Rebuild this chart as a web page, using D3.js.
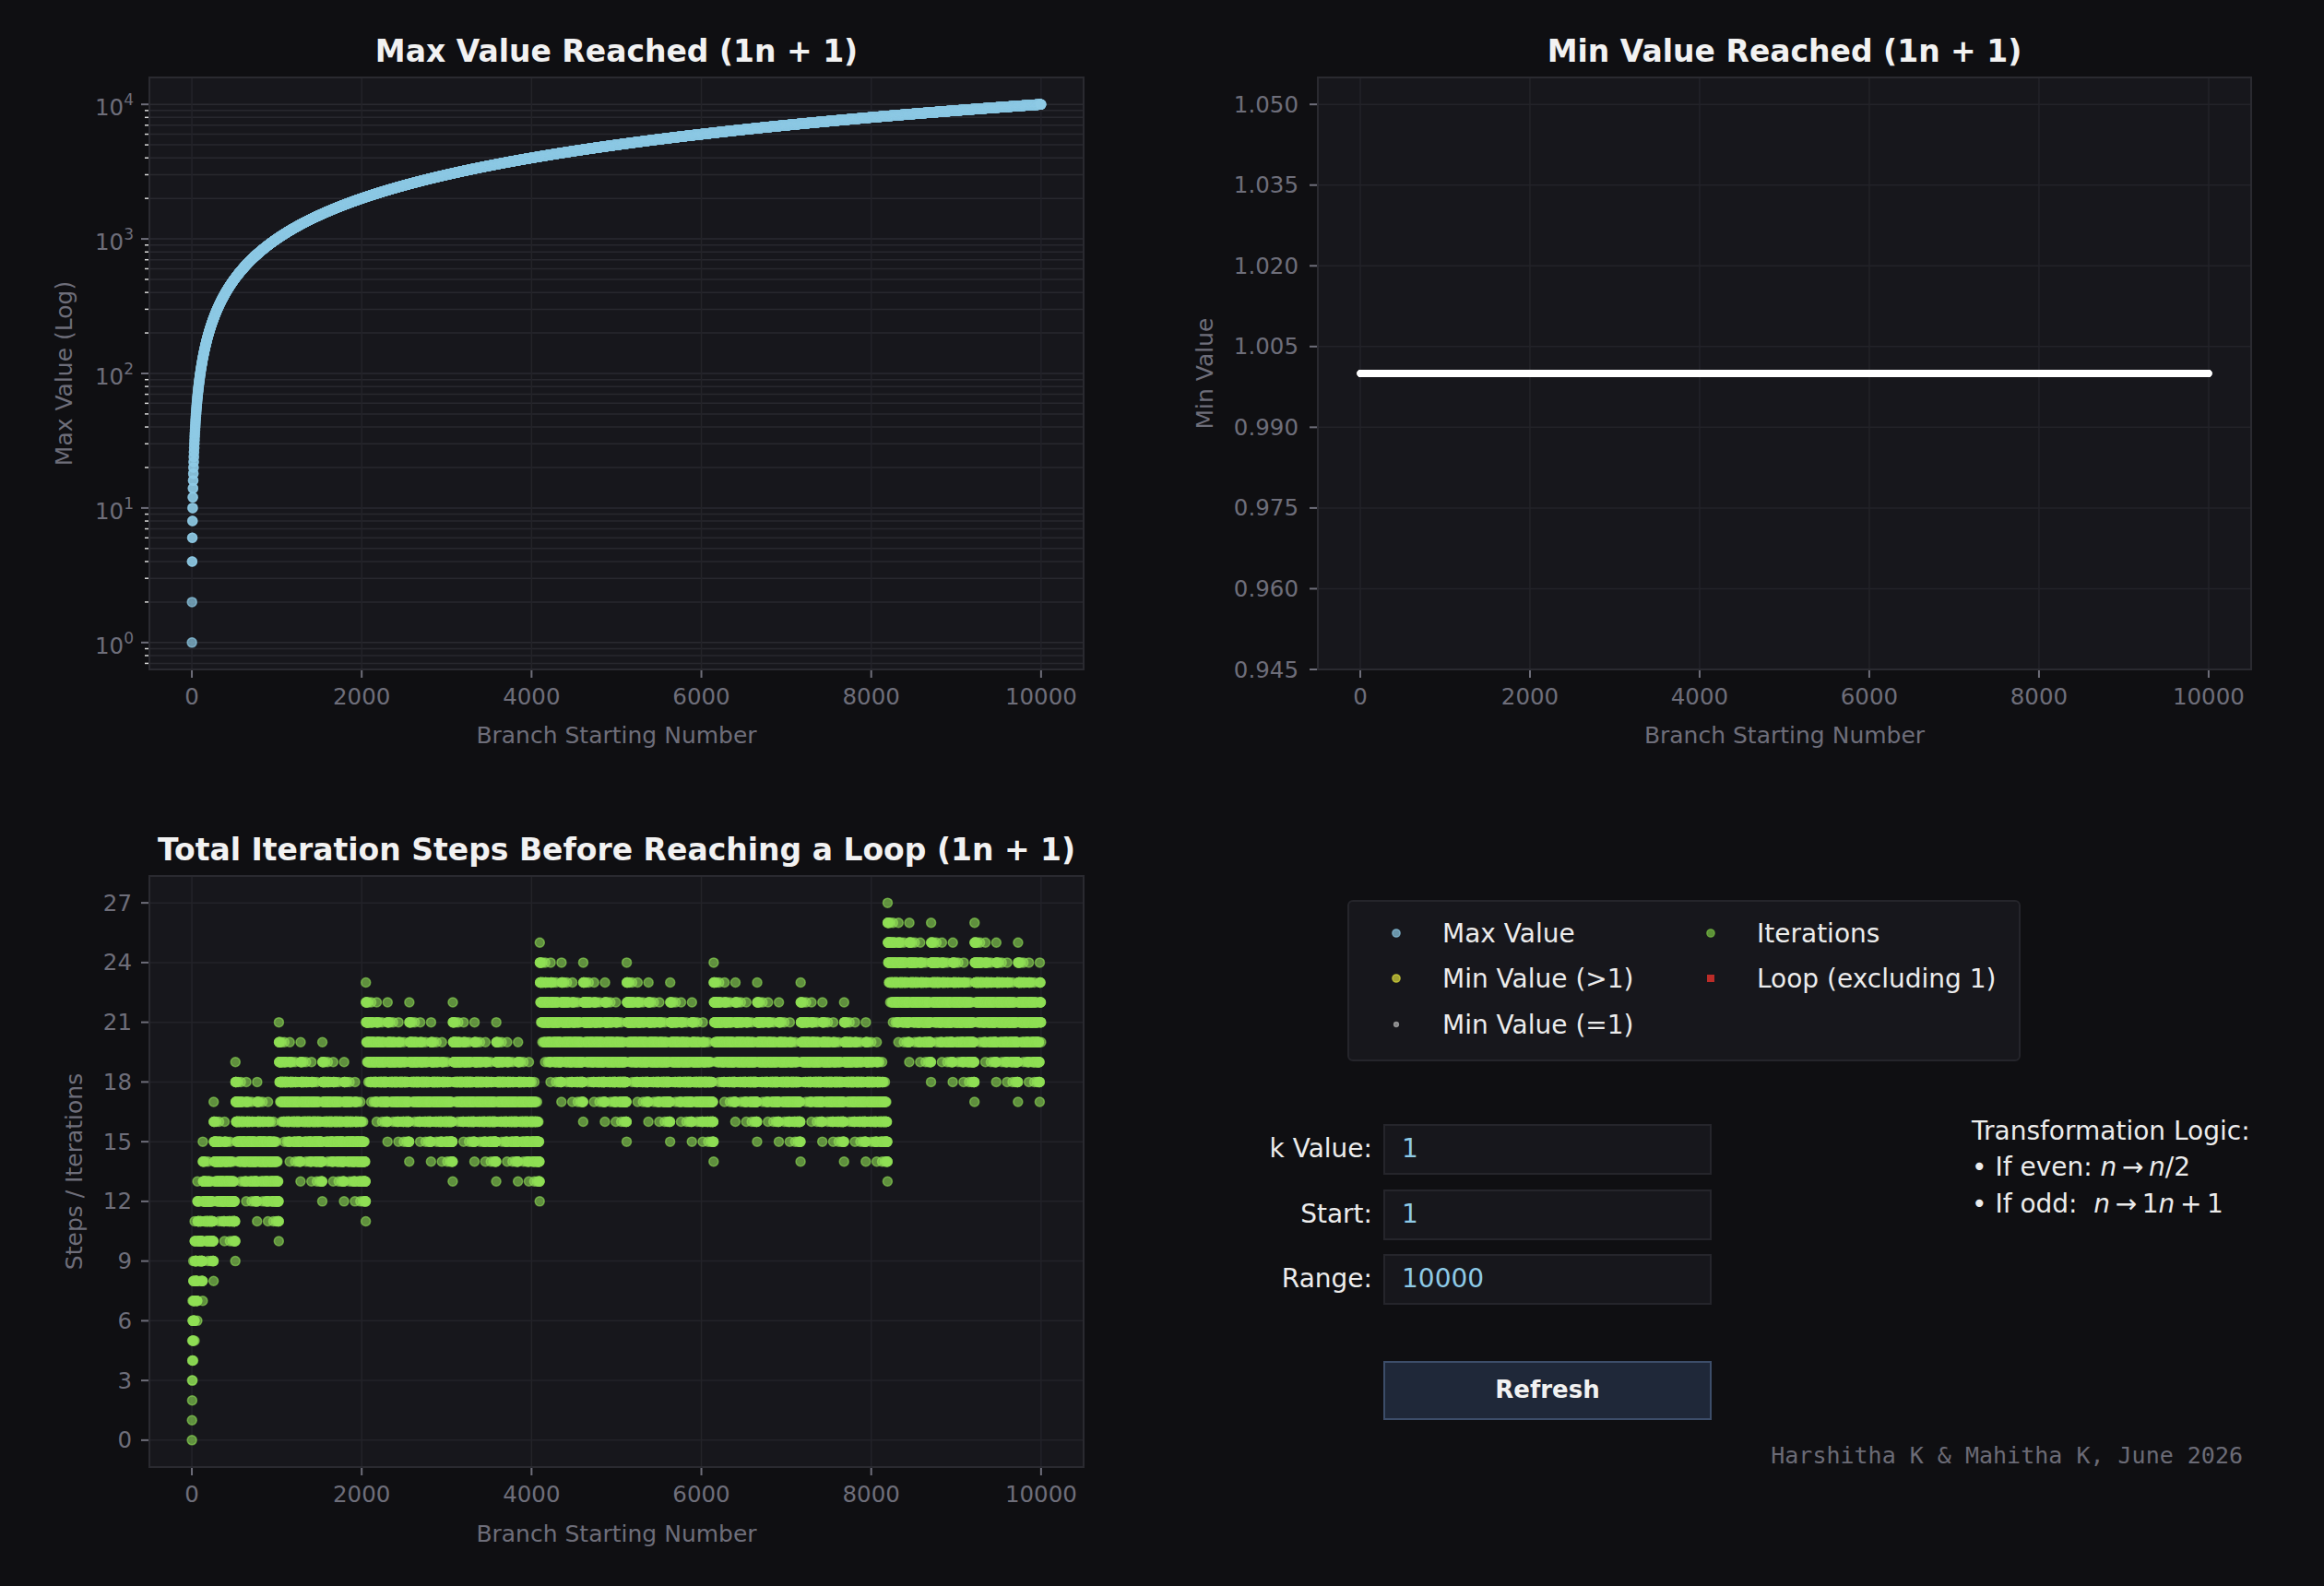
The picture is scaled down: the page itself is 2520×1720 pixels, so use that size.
<!DOCTYPE html>
<html>
<head>
<meta charset="utf-8">
<script src="https://cdn.jsdelivr.net/npm/d3@7"></script>
<style>
html, body { margin: 0; padding: 0; background: #0f0f12; }
svg { display: block; }
text { font-family: "DejaVu Sans", sans-serif; white-space: pre; }
</style>
</head>
<body>
<svg id="chart" width="2520" height="1720"></svg>
<script>
// values typed in the control panel of the picture
var kValue = 1;
var startValue = 1;
var rangeValue = 10000;

var xTicks = [0, 2000, 4000, 6000, 8000, 10000];
var logTicks = [1, 10, 100, 1000, 10000];
var minTicks = [0.945, 0.960, 0.975, 0.990, 1.005, 1.020, 1.035, 1.050];
var stepTicks = [0, 3, 6, 9, 12, 15, 18, 21, 24, 27];

var legendLabels = ["Max Value", "Min Value (>1)", "Min Value (=1)", "Iterations", "Loop (excluding 1)"];
var legendColors = ["#8ecae6", "#e0e03c", "#b0b0b0", "#7cc644", "#d8302a"];

var bg = "#0f0f12", panel = "#17171c", frame = "#2a2a30", grid = "#232329";
var tickGrey = "#6e6e7a", textWhite = "#ececec";

// run the branch rule (n even -> n/2, n odd -> k*n + 1) for every starting number
var starts = [], maxValues = [], minValues = [], stepCounts = [];
for (var n = startValue; n < startValue + rangeValue; n++) {
	var x = n, steps = 0, hi = n, lo = n, seen = new Set([n]);
	while (x !== 1) {
		x = (x % 2 === 0) ? x / 2 : kValue * x + 1;
		if (seen.has(x)) break;
		seen.add(x);
		steps++;
		if (x > hi) hi = x;
		if (x < lo) lo = x;
	}
	starts.push(n);
	maxValues.push(hi);
	minValues.push(lo);
	stepCounts.push(steps);
}

var svg = d3.select("#chart");
svg.append("rect").attr("width", 2520).attr("height", 1720).attr("fill", bg);

var xDomain = [-499.95, 10500.95];

function panelFrame(box, title, titleY) {
	var g = svg.append("g");
	g.append("rect")
		.attr("x", box.x0).attr("y", box.y0)
		.attr("width", box.x1 - box.x0).attr("height", box.y1 - box.y0)
		.attr("fill", panel);
	svg.append("text")
		.attr("x", (box.x0 + box.x1) / 2).attr("y", titleY)
		.attr("text-anchor", "middle")
		.attr("font-size", 33).attr("font-weight", "bold")
		.attr("fill", "#f2f2f2")
		.text(title);
	return g;
}

function xAxis(box, x, label, labelY) {
	var g = svg.append("g");
	g.selectAll("line.grid").data(xTicks).enter().append("line")
		.attr("x1", x).attr("x2", x)
		.attr("y1", box.y0).attr("y2", box.y1)
		.attr("stroke", grid).attr("stroke-width", 1.5);
	g.selectAll("line.tick").data(xTicks).enter().append("line")
		.attr("x1", x).attr("x2", x)
		.attr("y1", box.y1).attr("y2", box.y1 + 9)
		.attr("stroke", tickGrey).attr("stroke-width", 2);
	g.selectAll("text").data(xTicks).enter().append("text")
		.attr("x", x).attr("y", box.y1 + 38)
		.attr("text-anchor", "middle")
		.attr("font-size", 24.5).attr("fill", tickGrey)
		.text(function(d) { return d; });
	svg.append("text")
		.attr("x", (box.x0 + box.x1) / 2).attr("y", labelY)
		.attr("text-anchor", "middle")
		.attr("font-size", 25).attr("fill", tickGrey)
		.text(label);
}

function yLabel(box, xPos, label) {
	svg.append("text")
		.attr("transform", "translate(" + xPos + "," + ((box.y0 + box.y1) / 2) + ") rotate(-90)")
		.attr("text-anchor", "middle")
		.attr("dominant-baseline", "central")
		.attr("font-size", 25).attr("fill", tickGrey)
		.text(label);
}

function frameOutline(box) {
	svg.append("rect")
		.attr("x", box.x0).attr("y", box.y0)
		.attr("width", box.x1 - box.x0).attr("height", box.y1 - box.y0)
		.attr("fill", "none").attr("stroke", frame).attr("stroke-width", 2);
}

// ---------- max value (log) ----------
var box1 = {x0: 162, x1: 1175, y0: 84, y1: 726};
panelFrame(box1, "Max Value Reached (1n + 1)", 67);
var x1 = d3.scaleLinear().domain(xDomain).range([box1.x0, box1.x1]);
var y1 = d3.scaleLog().domain([Math.pow(10, -0.2), Math.pow(10, 4.2)]).range([box1.y1, box1.y0]);

var minor1 = y1.ticks().filter(function(d) {
	return logTicks.indexOf(d) < 0 && d >= y1.domain()[0] && d <= y1.domain()[1];
});
svg.selectAll("line.minorGrid").data(minor1).enter().append("line")
	.attr("x1", box1.x0).attr("x2", box1.x1)
	.attr("y1", y1).attr("y2", y1)
	.attr("stroke", "#28282e").attr("stroke-width", 1.5);
svg.selectAll("line.majorGrid1").data(logTicks).enter().append("line")
	.attr("x1", box1.x0).attr("x2", box1.x1)
	.attr("y1", y1).attr("y2", y1)
	.attr("stroke", "#2a2a30").attr("stroke-width", 1.5);
xAxis(box1, function(d) { return x1(d); }, "Branch Starting Number", 806);
svg.selectAll("line.minorTick").data(minor1).enter().append("line")
	.attr("x1", box1.x0 - 5).attr("x2", box1.x0)
	.attr("y1", y1).attr("y2", y1)
	.attr("stroke", "#dcdcdc").attr("stroke-width", 1.5);
svg.selectAll("line.majorTick1").data(logTicks).enter().append("line")
	.attr("x1", box1.x0 - 9).attr("x2", box1.x0)
	.attr("y1", y1).attr("y2", y1)
	.attr("stroke", tickGrey).attr("stroke-width", 2);
var logLab = svg.selectAll("text.logLab").data(logTicks).enter().append("text")
	.attr("x", box1.x0 - 17).attr("y", function(d) { return y1(d) + 12; })
	.attr("text-anchor", "end")
	.attr("font-size", 24.5).attr("fill", tickGrey);
logLab.append("tspan").text("10");
logLab.append("tspan").attr("dy", -11).attr("font-size", 17)
	.text(function(d) { return Math.round(Math.log10(d)); });
yLabel(box1, 69, "Max Value (Log)");

svg.append("g").selectAll("circle").data(starts).enter().append("circle")
	.attr("cx", function(d) { return x1(d); })
	.attr("cy", function(d, i) { return y1(maxValues[i]); })
	.attr("r", 5)
	.attr("fill", "#8ecae6").attr("fill-opacity", 0.7)
	.attr("stroke", "#8ecae6").attr("stroke-opacity", 0.7).attr("stroke-width", 1.5);
frameOutline(box1);

// ---------- min value ----------
var box2 = {x0: 1429, x1: 2441, y0: 84, y1: 726};
panelFrame(box2, "Min Value Reached (1n + 1)", 67);
var x2 = d3.scaleLinear().domain(xDomain).range([box2.x0, box2.x1]);
var y2 = d3.scaleLinear().domain([0.945, 1.055]).range([box2.y1, box2.y0]);
svg.selectAll("line.grid2").data(minTicks).enter().append("line")
	.attr("x1", box2.x0).attr("x2", box2.x1)
	.attr("y1", y2).attr("y2", y2)
	.attr("stroke", grid).attr("stroke-width", 1.5);
xAxis(box2, function(d) { return x2(d); }, "Branch Starting Number", 806);
svg.selectAll("line.tick2").data(minTicks).enter().append("line")
	.attr("x1", box2.x0 - 9).attr("x2", box2.x0)
	.attr("y1", y2).attr("y2", y2)
	.attr("stroke", tickGrey).attr("stroke-width", 2);
svg.selectAll("text.lab2").data(minTicks).enter().append("text")
	.attr("x", box2.x0 - 21).attr("y", function(d) { return y2(d) + 8.5; })
	.attr("text-anchor", "end")
	.attr("font-size", 24.5).attr("fill", tickGrey)
	.text(d3.format(".3f"));
yLabel(box2, 1306, "Min Value");

svg.append("g").selectAll("circle").data(starts).enter().append("circle")
	.attr("cx", function(d) { return x2(d); })
	.attr("cy", function(d, i) { return y2(minValues[i]); })
	.attr("r", 3.7)
	.attr("fill", minValues.every(function(v) { return v === 1; }) ? "#ffffff" : legendColors[1]);
frameOutline(box2);

// ---------- iteration steps ----------
var box3 = {x0: 162, x1: 1175, y0: 950, y1: 1591};
panelFrame(box3, "Total Iteration Steps Before Reaching a Loop (1n + 1)", 933);
var x3 = d3.scaleLinear().domain(xDomain).range([box3.x0, box3.x1]);
var y3 = d3.scaleLinear().domain([-1.35, 28.35]).range([box3.y1, box3.y0]);
svg.selectAll("line.grid3").data(stepTicks).enter().append("line")
	.attr("x1", box3.x0).attr("x2", box3.x1)
	.attr("y1", y3).attr("y2", y3)
	.attr("stroke", grid).attr("stroke-width", 1.5);
xAxis(box3, function(d) { return x3(d); }, "Branch Starting Number", 1672);
svg.selectAll("line.tick3").data(stepTicks).enter().append("line")
	.attr("x1", box3.x0 - 9).attr("x2", box3.x0)
	.attr("y1", y3).attr("y2", y3)
	.attr("stroke", tickGrey).attr("stroke-width", 2);
svg.selectAll("text.lab3").data(stepTicks).enter().append("text")
	.attr("x", box3.x0 - 19).attr("y", function(d) { return y3(d) + 8.5; })
	.attr("text-anchor", "end")
	.attr("font-size", 24.5).attr("fill", tickGrey)
	.text(function(d) { return d; });
yLabel(box3, 80, "Steps / Iterations");

svg.append("g").selectAll("circle").data(starts).enter().append("circle")
	.attr("cx", function(d) { return x3(d); })
	.attr("cy", function(d, i) { return y3(stepCounts[i]); })
	.attr("r", 5)
	.attr("fill", "#8fe055").attr("fill-opacity", 0.6)
	.attr("stroke", "#8fe055").attr("stroke-opacity", 0.6).attr("stroke-width", 1.5);
frameOutline(box3);

// ---------- legend ----------
var legend = svg.append("g");
legend.append("rect")
	.attr("x", 1462).attr("y", 977).attr("width", 728).attr("height", 173)
	.attr("rx", 5)
	.attr("fill", panel).attr("stroke", "#25252b").attr("stroke-width", 2);
var legendPos = [[1514, 1012], [1514, 1061], [1514, 1111], [1855, 1012], [1855, 1061]];
legendLabels.forEach(function(label, i) {
	var p = legendPos[i];
	if (i === 4) {
		legend.append("rect")
			.attr("x", p[0] - 4).attr("y", p[1] - 4).attr("width", 8).attr("height", 8)
			.attr("fill", legendColors[i]).attr("fill-opacity", 0.85);
	} else {
		legend.append("circle")
			.attr("cx", p[0]).attr("cy", p[1])
			.attr("r", i === 2 ? 2.5 : 4.2)
			.attr("fill", legendColors[i]).attr("fill-opacity", 0.7)
			.attr("stroke", legendColors[i]).attr("stroke-opacity", 0.7).attr("stroke-width", 1.3);
	}
	legend.append("text")
		.attr("x", p[0] + 50).attr("y", p[1] + 10)
		.attr("font-size", 28).attr("fill", textWhite)
		.text(label);
});

// ---------- inputs ----------
var inputs = [["k Value:", kValue, 1220], ["Start:", startValue, 1291], ["Range:", rangeValue, 1361]];
inputs.forEach(function(row) {
	svg.append("rect")
		.attr("x", 1501).attr("y", row[2]).attr("width", 354).attr("height", 53)
		.attr("fill", panel).attr("stroke", "#25252b").attr("stroke-width", 2);
	svg.append("text")
		.attr("x", 1488).attr("y", row[2] + 35)
		.attr("text-anchor", "end")
		.attr("font-size", 28).attr("fill", textWhite)
		.text(row[0]);
	svg.append("text")
		.attr("x", 1520).attr("y", row[2] + 35)
		.attr("font-size", 28).attr("fill", "#8ecae6")
		.text(row[1]);
});

svg.append("rect")
	.attr("x", 1501).attr("y", 1477).attr("width", 354).attr("height", 62)
	.attr("fill", "#1f2839").attr("stroke", "#3c4d69").attr("stroke-width", 2);
svg.append("text")
	.attr("x", 1678).attr("y", 1516)
	.attr("text-anchor", "middle")
	.attr("font-size", 26).attr("font-weight", "bold").attr("fill", "#f2f2f2")
	.text("Refresh");

// ---------- transformation logic ----------
var logic = svg.append("g").attr("font-size", 28).attr("fill", textWhite);
logic.append("text").attr("x", 2138).attr("y", 1236).text("Transformation Logic:");
var even = logic.append("text").attr("x", 2138).attr("y", 1275);
even.append("tspan").text("\u2022 If even: ");
even.append("tspan").attr("font-style", "italic").text("n");
even.append("tspan").text("\u2009\u2192\u2009");
even.append("tspan").attr("font-style", "italic").text("n");
even.append("tspan").text("/2");
var odd = logic.append("text").attr("x", 2138).attr("y", 1315);
odd.append("tspan").text("\u2022 If odd:  ");
odd.append("tspan").attr("font-style", "italic").text("n");
odd.append("tspan").text("\u2009\u2192\u2009" + kValue);
odd.append("tspan").attr("font-style", "italic").text("n");
odd.append("tspan").text("\u2009+\u20091");

svg.append("text")
	.attr("x", 2432).attr("y", 1587)
	.attr("text-anchor", "end")
	.style("font-family", "'DejaVu Sans Mono', monospace")
	.attr("font-size", 25).attr("fill", "#6b6b76")
	.text("Harshitha K & Mahitha K, June 2026");
</script>
</body>
</html>
